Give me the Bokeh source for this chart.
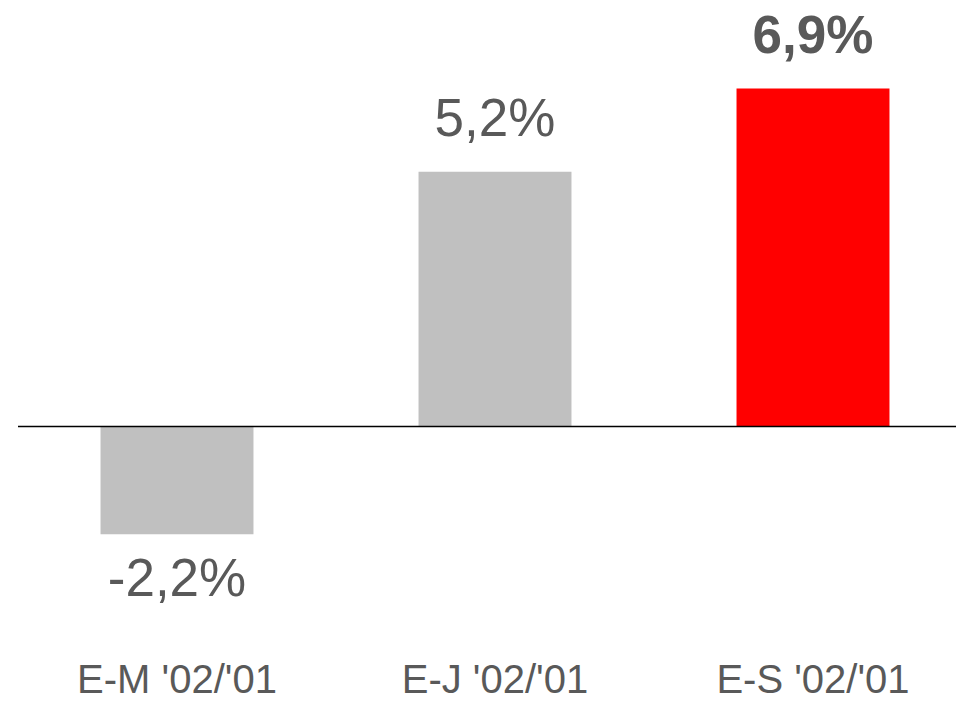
from bokeh.plotting import figure
from bokeh.models import ColumnDataSource, Range1d
from bokeh.core.properties import value
from bokeh.embed import file_html
from bokeh.resources import INLINE

# ---- data ----
categories = ["E-M '02/'01", "E-J '02/'01", "E-S '02/'01"]
values = [-2.2, 5.2, 6.9]
bar_colors = ["#C0C0C0", "#C0C0C0", "#FF0000"]
label_styles = ["normal", "normal", "bold"]

# ---- layout constants ----
W, H = 956, 701
PX_PER_CAT = 318.0
PX_PER_UNIT = 49.0
ZERO_PX = 426.0          # canvas y of zero line
FIRST_CENTER_PX = 176.5  # canvas x of first category center

x_start = -FIRST_CENTER_PX / PX_PER_CAT
x_end = x_start + W / PX_PER_CAT
y_end = ZERO_PX / PX_PER_UNIT
y_start = -(H - ZERO_PX) / PX_PER_UNIT

xs = list(range(len(categories)))
labels = [("%.1f" % v).replace(".", ",") + "%" for v in values]
offsets = [-54 if v >= 0 else 43 for v in values]

src = ColumnDataSource(dict(
    x=xs, top=values, color=bar_colors, label=labels,
    style=label_styles, yoff=offsets, cat=categories,
    ybase=[y_start] * len(xs),
))

p = figure(width=W, height=H, output_backend="svg", toolbar_location=None,
           x_range=Range1d(x_start, x_end), y_range=Range1d(y_start, y_end),
           x_axis_location=None, y_axis_location=None,
           min_border_left=0, min_border_right=0, min_border_top=0, min_border_bottom=0,
           outline_line_color=None, background_fill_color="white",
           border_fill_color="white")
p.xgrid.visible = False
p.ygrid.visible = False

p.vbar(x="x", top="top", bottom=0, width=0.481, fill_color="color",
       line_color=None, source=src)

# zero line
p.segment(x0=[xs[0] - 0.5], y0=[0], x1=[x_end], y1=[0], line_color="black",
          line_width=1.5)

# value labels
p.text(x="x", y="top", text="label", source=src, text_align="center",
       text_baseline="alphabetic", y_offset="yoff",
       text_font=value("Liberation Sans"), text_font_size="53px",
       text_font_style="style", text_color="#595959")

# category labels
p.text(x="x", y="ybase", text="cat", source=src, text_align="center",
       text_baseline="alphabetic", y_offset=-23,
       text_font=value("Liberation Sans"), text_font_size="40px",
       text_color="#595959")

open("out.html", "w").write(file_html(p, INLINE))
